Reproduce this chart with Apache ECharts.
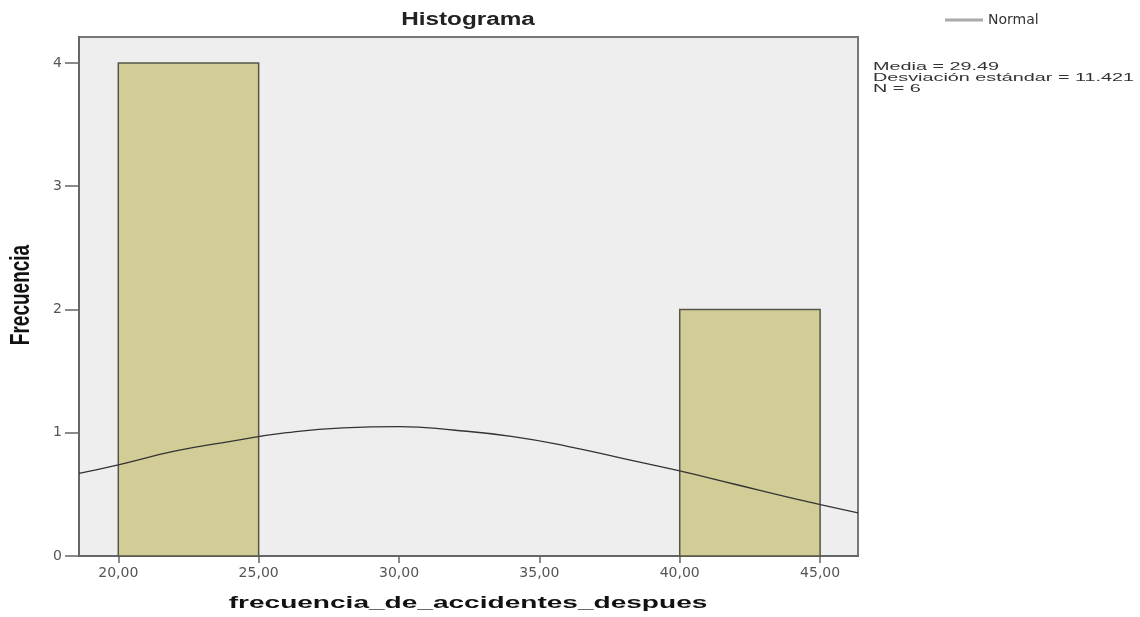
<!DOCTYPE html>
<html>
<head>
<meta charset="utf-8">
<script src="https://cdn.jsdelivr.net/npm/echarts@6/dist/echarts.min.js"></script>
<style>
  html, body { margin: 0; padding: 0; background: #fff; }
  #main { width: 1140px; height: 617px; }
</style>
</head>
<body>
<div id="main"></div>
<script>
// 直方圖的資料
var binStart = [20, 40];
var binEnd = [25, 45];
var binCount = [4, 2];

// 常態曲線（從圖片讀取的點）
var curveX = [18.6, 20, 22, 24, 26, 28, 30, 32, 34, 36, 38, 40, 42, 44, 46.35];
var curveY = [0.67, 0.74, 0.85, 0.93, 1.0, 1.04, 1.05, 1.02, 0.97, 0.89, 0.79, 0.69, 0.58, 0.47, 0.35];

var xTicks = [20, 25, 30, 35, 40, 45];
var yTicks = [0, 1, 2, 3, 4];

var statsLines = ['Media = 29.49', 'Desviación estándar = 11.421', 'N = 6'];

var chart = echarts.init(document.getElementById('main'));

var bars = binStart.map(function (s, i) { return [s, binEnd[i], binCount[i]]; });
var curve = curveX.map(function (x, i) { return [x, curveY[i]]; });

var option = {
    backgroundColor: '#ffffff',
    animation: false,
    grid: {
        left: 79,
        right: 282,
        top: 37,
        bottom: 61,
        show: true,
        backgroundColor: '#eeeeee',
        borderColor: '#777777',
        borderWidth: 2,
        containLabel: false,
        outerBoundsMode: 'none'
    },
    legend: {
        data: [{ name: 'Normal', icon: 'rect', itemStyle: { color: '#aaaaaa' } }],
        left: 940,
        top: 8,
        itemWidth: 38,
        itemHeight: 3,
        itemGap: 4,
        textStyle: {
            fontFamily: 'DejaVu Sans',
            fontSize: 14,
            color: '#333'
        }
    },
    xAxis: {
        type: 'value',
        min: 18.6,
        max: 46.35,
        splitLine: { show: false },
        axisLine: { lineStyle: { color: '#666', width: 2 } },
        axisTick: {
            customValues: xTicks,
            length: 7,
            lineStyle: { color: '#666', width: 1.5 }
        },
        axisLabel: {
            customValues: xTicks,
            margin: 10,
            fontFamily: 'DejaVu Sans',
            fontSize: 14,
            color: '#555',
            formatter: function (v) { return v.toFixed(2).replace('.', ','); }
        }
    },
    yAxis: {
        type: 'value',
        min: 0,
        max: 4.21,
        splitLine: { show: false },
        axisLine: { show: true, lineStyle: { color: '#666', width: 2 } },
        axisTick: {
            show: true,
            customValues: yTicks,
            length: 14,
            lineStyle: { color: '#666', width: 1.5 }
        },
        axisLabel: {
            customValues: yTicks,
            margin: 17,
            fontFamily: 'DejaVu Sans',
            fontSize: 14,
            color: '#555'
        }
    },
    graphic: [
        {
            type: 'text', x: 468, y: 20, scaleX: 1.35,
            style: {
                text: 'Histograma', x: 0, y: 0,
                textAlign: 'center', textVerticalAlign: 'middle',
                font: 'bold 18px "Liberation Sans", Arial, sans-serif',
                fill: '#222'
            }
        },
        {
            type: 'text', x: 468, y: 603, scaleX: 1.65,
            style: {
                text: 'frecuencia_de_accidentes_despues', x: 0, y: 0,
                textAlign: 'center', textVerticalAlign: 'middle',
                font: 'bold 17px "Liberation Sans", Arial, sans-serif',
                fill: '#111'
            }
        },
        {
            type: 'text', x: 21, y: 295, rotation: Math.PI / 2, scaleY: 1.5,
            style: {
                text: 'Frecuencia', x: 0, y: 0,
                textAlign: 'center', textVerticalAlign: 'middle',
                font: 'bold 19px "Liberation Sans", Arial, sans-serif',
                fill: '#111'
            }
        },
        {
            type: 'text', x: 873, y: 61, scaleX: 1.8,
            style: {
                text: statsLines.join('\n'), x: 0, y: 0,
                textAlign: 'left', textVerticalAlign: 'top',
                font: '11px "Liberation Sans", Arial, sans-serif',
                lineHeight: 11,
                fill: '#333'
            }
        }
    ],
    series: [
        {
            name: 'Frecuencia',
            type: 'custom',
            data: bars,
            encode: { x: [0, 1], y: 2 },
            z: 2,
            renderItem: function (params, api) {
                var p0 = api.coord([api.value(0), api.value(2)]);
                var p1 = api.coord([api.value(1), 0]);
                return {
                    type: 'rect',
                    shape: { x: p0[0], y: p0[1], width: p1[0] - p0[0], height: p1[1] - p0[1] },
                    style: { fill: '#d2cd96', stroke: '#55554a', lineWidth: 1.5 }
                };
            }
        },
        {
            name: 'Normal',
            type: 'line',
            data: curve,
            smooth: true,
            symbol: 'none',
            z: 3,
            itemStyle: { color: '#333' },
            lineStyle: { color: '#333', width: 1.3 }
        }
    ]
};

chart.setOption(option);
</script>
</body>
</html>
